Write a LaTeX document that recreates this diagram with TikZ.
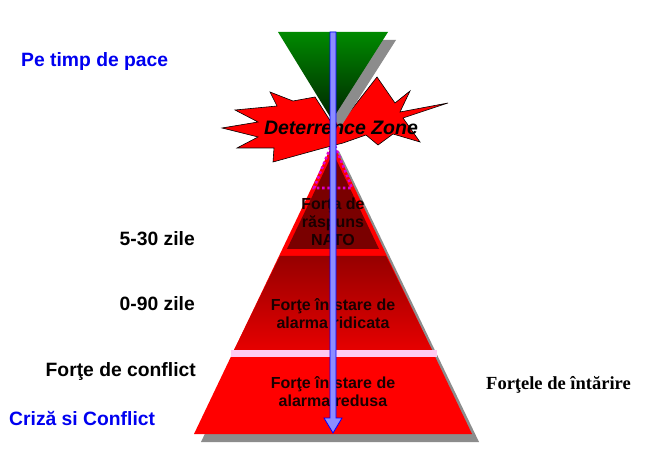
\documentclass[tikz,border=0pt]{standalone}
\usepackage{fontspec}
\setmainfont{Liberation Sans}
\newfontfamily\timesf{Liberation Serif}
\definecolor{shgray}{HTML}{8C8C8C}
\definecolor{txtblue}{HTML}{0000F0}
\definecolor{brred}{HTML}{FF0000}
\definecolor{dkred}{HTML}{7A0000}
\definecolor{midtop}{HTML}{960000}
\definecolor{midbot}{HTML}{E60000}
\definecolor{pinkline}{HTML}{FFCCF2}
\definecolor{grtop}{HTML}{008A00}
\definecolor{grbot}{HTML}{002400}
\definecolor{dotmag}{HTML}{E000D0}
\definecolor{arrfill}{HTML}{8C8CFF}
\tikzset{
  sidelabel/.style={font=\fontsize{19.3}{22}\selectfont\bfseries, inner sep=0pt},
  bluelabel/.style={sidelabel, text=txtblue},
  pyrtext/.style={font=\fontsize{16}{18}\selectfont\bfseries, align=center, inner sep=0pt, text=black!90!red},
}
\begin{document}
\begin{tikzpicture}[x=1pt,y=-1pt]
\useasboundingbox (0,0) rectangle (667,462);
\fill[white] (0,0) rectangle (667,462);

% explosion star
\fill[brred, draw=black, line width=0.6pt]
  (222,128) -- (258,122) -- (235,110) -- (277,106) -- (270,92) -- (293,101)
  -- (315,97) -- (331,122) -- (345,118) -- (377,77) -- (395,103)
  -- (410,91) -- (400,112) -- (448,103) -- (403,118) -- (420,142)
  -- (393,134) -- (378,145) -- (366,135) -- (343,143) -- (320,149)
  -- (273,162) -- (274,148) -- (237,148) -- (258,137) -- cycle;

% green cone shadow and cone
\fill[shgray] (286,40) -- (396,40) -- (340,128) -- cycle;
\shade[top color=grtop, bottom color=grbot] (278,32) -- (388,32) -- (332,120) -- cycle;

% pyramid shadow
\fill[shgray] (339,151) -- (479,442) -- (201,442) -- cycle;
% whole pyramid (bottom band colour)
\fill[brred] (333,143) -- (472,434) -- (194,434) -- cycle;
% middle band
\shade[top color=midtop, bottom color=midbot] (280,256) -- (386,256) -- (432,350) -- (234,350) -- cycle;
% top band inner dark part
\fill[dkred] (333,153) -- (379,249) -- (287,249) -- cycle;
% pink separator
\fill[pinkline] (231,350) rectangle (437,357);
% dotted magenta triangle
\draw[dotmag, line width=2.6pt, dash pattern=on 2.6pt off 2.6pt] (333,141) -- (352,188) -- (314,188) -- cycle;

% texts
\node[bluelabel, anchor=west] (pace) at (21,62) {Pe timp de pace};
\node[sidelabel, anchor=east] (z530) at (195,239) {5-30 zile};
\node[sidelabel, anchor=east] (z090) at (195,304) {0-90 zile};
\node[sidelabel, anchor=east] (fconf) at (196,372) {Forţe de conflict};
\node[bluelabel, anchor=west] (criza) at (9,418) {Criză si Conflict};
\node[font=\fontsize{18.5}{21}\selectfont\timesf\bfseries, anchor=west, inner sep=0pt] (intarire) at (486,385) {Forţele de întărire};
\node[font=\fontsize{19.5}{22}\selectfont\bfseries\itshape, inner sep=0pt] (dz) at (341,128) {Deterrence Zone};
\node[pyrtext] (nato) at (333,222) {Forţa de\\răspuns\\NATO};
\node[pyrtext] (ridic) at (333,314) {Forţe în stare de\\alarma ridicata};
\node[pyrtext] (redus) at (333,392) {Forţe în stare de\\alarma redusa};

% blue arrow
\filldraw[fill=arrfill, draw=blue, line width=0.8pt]
  (330,32) -- (336,32) -- (336,418) -- (342,418) -- (333,433) -- (324,418) -- (330,418) -- cycle;
\end{tikzpicture}
\end{document}
